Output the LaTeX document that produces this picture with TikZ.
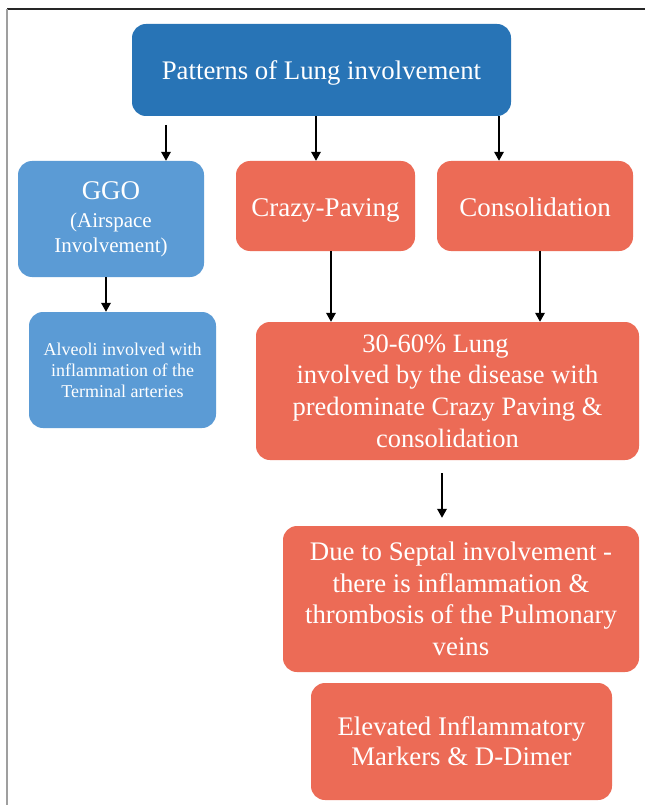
\documentclass[tikz,border=0pt]{standalone}
\usepackage{fontspec}
\setmainfont{Liberation Serif}
\usetikzlibrary{arrows.meta,calc}
\definecolor{titleblue}{HTML}{2874B6}
\definecolor{lightblue}{HTML}{5B9BD5}
\definecolor{coral}{HTML}{EC6B56}
\tikzset{
  box/.style={rounded corners=14pt, text=white, align=center, inner sep=0pt, draw=none},
  bluebox/.style={box, fill=lightblue},
  redbox/.style={box, fill=coral},
  arr/.style={-{Triangle[length=9pt,width=9.5pt]}, line width=1.8pt, black},
}
\begin{document}
\begin{tikzpicture}[x=1pt,y=-1pt]
\useasboundingbox (0,0) rectangle (645,805);
\fill[white] (0,0) rectangle (645,805);
\draw[black!85, line width=1.5pt] (7,9) -- (645,9);
\draw[gray!75, line width=2pt] (7,9) -- (7,805);

\node[box, fill=titleblue, minimum width=379pt, minimum height=92pt,
  text height=24pt, text depth=4pt,
  font=\fontsize{26.8}{30}\selectfont] (title) at (321.5,70) {Patterns of Lung involvement};

\node[bluebox, minimum width=186pt, minimum height=116pt,
  font=\fontsize{21}{25}\selectfont] (ggo) at (111,219)
  {{\fontsize{27}{28}\selectfont GGO}\\[3pt](Airspace\\Involvement)};

\node[bluebox, minimum width=187pt, minimum height=116pt,
  font=\fontsize{18}{21}\selectfont] (alv) at (122.5,370)
  {Alveoli involved with\\inflammation of the\\Terminal arteries};

\node[redbox, minimum width=179pt, minimum height=90pt,
  text height=24pt, text depth=4pt,
  font=\fontsize{27}{30}\selectfont] (crazy) at (325.5,206) {Crazy-Paving};

\node[redbox, minimum width=196pt, minimum height=90pt,
  text height=24pt, text depth=4pt,
  font=\fontsize{27}{30}\selectfont] (cons) at (535,206) {Consolidation};

\node[redbox, minimum width=383pt, minimum height=138pt,
  font=\fontsize{26.5}{31.7}\selectfont] (lung) at (447.5,391)
  {30-60\% Lung\hspace*{24pt}\\involved by the disease with\\predominate Crazy Paving \&\\consolidation};

\node[redbox, minimum width=356pt, minimum height=146pt,
  font=\fontsize{26.8}{31.5}\selectfont] (due) at (461,599)
  {Due to Septal involvement -\\there is inflammation \&\\thrombosis of the Pulmonary\\veins};

\node[redbox, minimum width=301pt, minimum height=117pt,
  font=\fontsize{26.8}{30}\selectfont] (elev) at (461.5,741.5)
  {Elevated Inflammatory\\Markers \& D-Dimer};

\draw[arr] (166,125) -- (166,0 |- ggo.north);
\draw[arr] (316,0 |- title.south) -- (316,0 |- crazy.north);
\draw[arr] (499,0 |- title.south) -- (499,0 |- cons.north);
\draw[arr] (106,0 |- ggo.south) -- (106,0 |- alv.north);
\draw[arr] (331,0 |- crazy.south) -- (331,0 |- lung.north);
\draw[arr] (540,0 |- cons.south) -- (540,0 |- lung.north);
\draw[arr] ($(442,0 |- lung.south)+(0,13)$) -- ($(442,0 |- due.north)+(0,-8)$);
\end{tikzpicture}
\end{document}
